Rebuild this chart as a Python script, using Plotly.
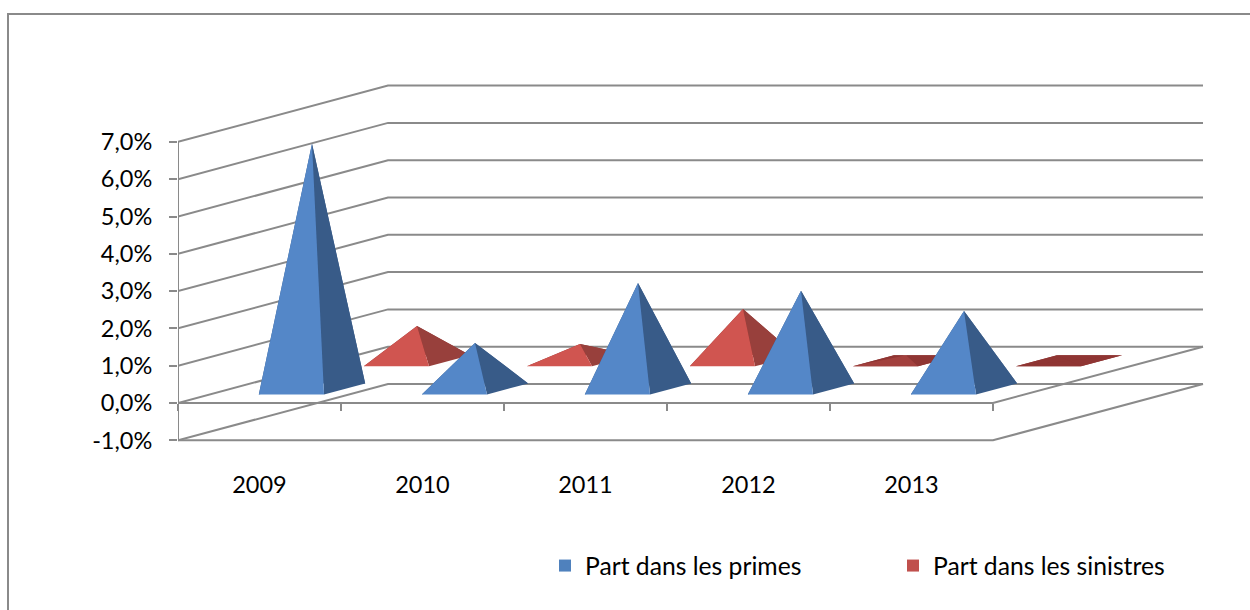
import plotly.graph_objects as go

# Data
years = ["2009", "2010", "2011", "2012", "2013"]
primes = [6.57, 1.23, 2.84, 2.63, 2.09]
sinistres = [0.93, 0.45, 1.39, 0.15, 0.0]
levels = [-1, 0, 1, 2, 3, 4, 5, 6, 7]
level_labels = ["-1,0%", "0,0%", "1,0%", "2,0%", "3,0%", "4,0%", "5,0%", "6,0%", "7,0%"]
names = ["Part dans les primes", "Part dans les sinistres"]

# Geometry of the oblique projection (pixel scale of the axes, depth shear)
W, H = 1250, 610
PX_U, PX_V = 163.0, 37.3
X0, Y0 = 178.0, 403.0
DEPTH_U, DEPTH_V = 210.0 / PX_U, 56.3 / PX_V
HALF_W, HALF_D = 0.2, 0.098
GREY = "#8a8a8a"
AXIS_FONT = dict(family="Lato", size=23.5, color="#000000")
LEGEND_FONT = dict(family="Lato", size=24.7, color="#000000")


def proj(u, v, z):
    return u + z * DEPTH_U, v + z * DEPTH_V


def polyline(points):
    xs, ys = [], []
    for u, v, z in points:
        x, y = proj(u, v, z)
        xs.append(x)
        ys.append(y)
    return xs, ys


fig = go.Figure()


def line(points, width=2):
    xs, ys = polyline(points)
    fig.add_trace(go.Scatter(x=xs, y=ys, mode="lines", showlegend=False, hoverinfo="skip",
                             line=dict(color=GREY, width=width)))


# Walls and gridlines
n = len(years)
for lv in levels:
    line([(0, lv, 0), (0, lv, 1), (n, lv, 1)])
for lv in levels[:2]:
    line([(0, lv, 0), (n, lv, 0), (n, lv, 1)])
line([(0, levels[0], 0), (0, levels[-1], 0)])


def face(points, color):
    xs, ys = polyline(points)
    fig.add_trace(go.Scatter(x=xs + xs[:1], y=ys + ys[:1], mode="none", fill="toself", fillcolor=color,
                             showlegend=False, hoverinfo="skip"))


def pyramids(values, zc, front, right, back, flat_front):
    for i, val in enumerate(values):
        uc = i + 0.5
        fl = (uc - HALF_W, 0, zc - HALF_D)
        fr = (uc + HALF_W, 0, zc - HALF_D)
        br = (uc + HALF_W, 0, zc + HALF_D)
        bl = (uc - HALF_W, 0, zc + HALF_D)
        apex = (uc, val, zc)
        flat = val < 0.3
        if flat:
            face([fl, fr, br, bl], back)
        face([bl, br, apex], back)
        face([fl, bl, apex], back)
        face([fr, br, apex], back if flat else right)
        face([fl, fr, apex], flat_front if flat and val > 0 else back if flat else front)


pyramids(sinistres, 0.75, "#d05550", "#98403c", "#8f3533", "#a2403d")
pyramids(primes, 0.25, "#5487c8", "#385b88", "#385b88", "#5487c8")

# Legend entries
for name, color in zip(names, ["#4f81bd", "#c0504d"]):
    fig.add_trace(go.Scatter(x=[None], y=[None], mode="markers", name=name,
                             marker=dict(symbol="square", size=16, color=color)))

fig.update_layout(
    width=W, height=H, autosize=False,
    margin=dict(l=0, r=0, t=0, b=0, autoexpand=False),
    paper_bgcolor="white", plot_bgcolor="white",
    font=AXIS_FONT,
    xaxis=dict(
        domain=[X0 / W, 1], range=[0, (W - X0) / PX_U], anchor="free", position=(H - Y0) / H,
        showgrid=False, zeroline=False, showline=False,
        tickmode="array", tickvals=[i + 0.5 for i in range(n)], ticktext=years,
        ticks="", ticklabelstandoff=65, tickfont=AXIS_FONT,
        minor=dict(tickmode="array", tickvals=list(range(n + 1)), ticks="outside",
                   ticklen=7, tickwidth=2, tickcolor=GREY, showgrid=False),
    ),
    yaxis=dict(
        domain=[0, 1], range=[(Y0 - H) / PX_V, Y0 / PX_V],
        showgrid=False, zeroline=False, showline=False,
        tickmode="array", tickvals=levels, ticktext=level_labels,
        ticks="outside", ticklen=8, tickwidth=2, tickcolor=GREY,
        ticklabelstandoff=12, tickfont=AXIS_FONT,
    ),
    legend=dict(orientation="h", x=545 / W, xanchor="left", y=(H - 566) / H, yanchor="middle",
                entrywidth=303, entrywidthmode="pixels", font=LEGEND_FONT, bgcolor="rgba(0,0,0,0)",
                itemsizing="constant"),
    shapes=[dict(type="rect", xref="paper", yref="paper", x0=8 / W, x1=1.05, y0=-0.05, y1=(H - 14) / H,
                 line=dict(color=GREY, width=2), layer="below")],
)

fig.write_html("out.html", config={"displayModeBar": False},
               post_script="document.body.style.margin='0';document.body.style.overflow='hidden';")
